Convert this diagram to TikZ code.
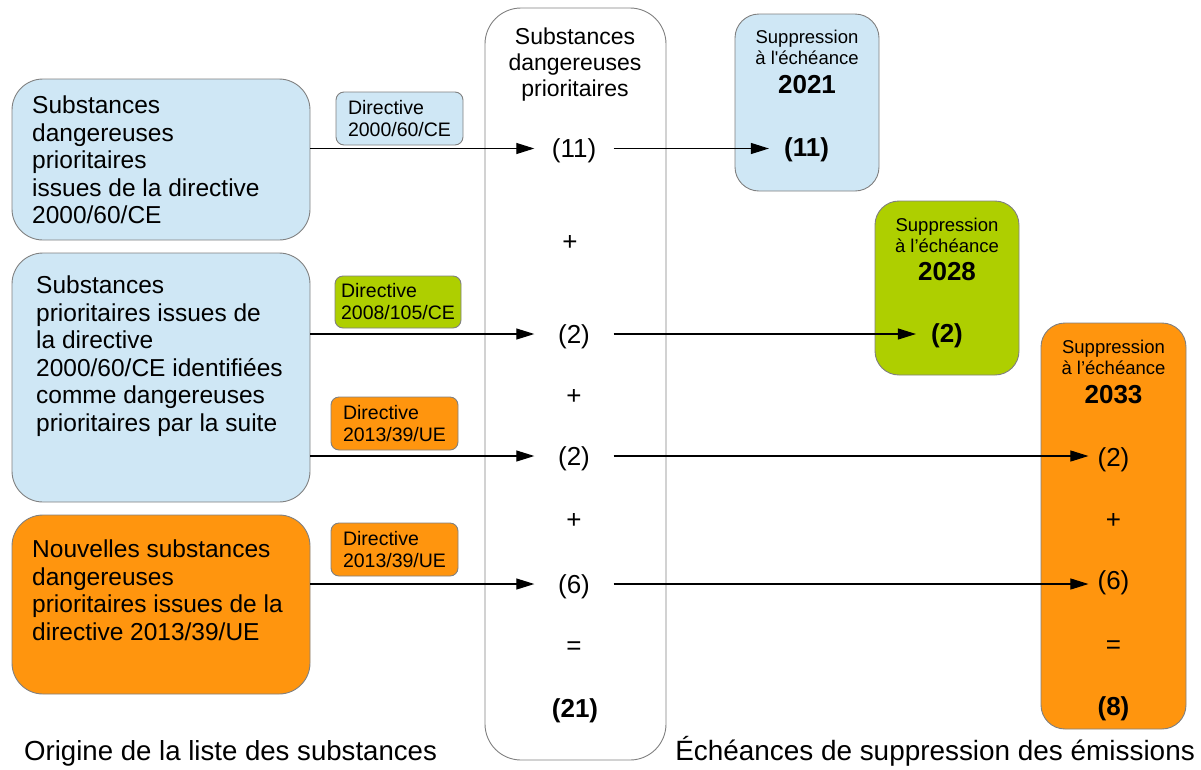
\documentclass[tikz,border=0pt]{standalone}
\usepackage{fontspec}
\setmainfont{Liberation Sans}
\newfontfamily\straightfont{Liberation Sans}
\usetikzlibrary{arrows.meta}
\definecolor{lblue}{HTML}{CFE7F5}
\definecolor{lgreen}{HTML}{AECF00}
\definecolor{orng}{HTML}{FF950E}
\definecolor{bord}{HTML}{808080}
\begin{document}
\begin{tikzpicture}[x=1pt,y=-1pt,
  bx/.style={draw=bord, line width=0.9pt, inner sep=0pt},
  bigbox/.style={bx, rounded corners=31pt},
  colbox/.style={bx, rounded corners=36pt, fill=white},
  rbox/.style={bx, rounded corners=24pt},
  dirbox/.style={bx, rounded corners=8pt, align=left, font=\fontsize{19.5}{22}\selectfont},
  boxtxt/.style={anchor=north west, inner sep=0pt, align=left, font=\fontsize{24.5}{27.5}\selectfont},
  hdr/.style={anchor=north, inner sep=0pt, align=center, font=\fontsize{23}{26}\selectfont},
  sup/.style={anchor=north, inner sep=0pt, align=center, font=\fontsize{18.5}{21}\selectfont},
  yr/.style={anchor=base, inner sep=0pt, font=\fontsize{26}{30}\selectfont\bfseries},
  num/.style={inner sep=0pt, text height=24pt, text depth=5.5pt, font=\fontsize{26}{30}\selectfont},
  bnum/.style={num, font=\fontsize{26}{30}\selectfont\bfseries},
  colnum/.style={num, minimum width=79pt},
  captxt/.style={inner sep=0pt, font=\fontsize{27.6}{32}\selectfont},
  arr/.style={-{Triangle[length=18pt,width=11pt]}, line width=1.1pt}
]
\useasboundingbox (0,0) rectangle (1201,769);

% left boxes
\node[bigbox, fill=lblue, minimum width=298pt, minimum height=161pt] (boxA) at (161,159.5) {};
\node[bigbox, fill=lblue, minimum width=298pt, minimum height=249pt] (boxB) at (161,377.5) {};
\node[bigbox, fill=orng, minimum width=298pt, minimum height=179pt] (boxC) at (161,604.5) {};
\node[boxtxt] (tA) at (32,96) {Substances\\dangereuses\\prioritaires\\issues de la directive\\2000/60/CE};
\node[boxtxt] (tB) at (36,276) {Substances\\prioritaires issues de\\la directive\\2000/60/CE identifiées\\comme dangereuses\\prioritaires par la suite};
\node[boxtxt] (tC) at (32,540) {Nouvelles substances\\dangereuses\\prioritaires issues de la\\directive 2013/39/UE};

% directive labels
\node[dirbox, fill=lblue, minimum width=127pt, minimum height=53pt] (d1) at (399.5,118.5) {Directive\\2000/60/CE};
\node[dirbox, fill=lgreen, minimum width=126pt, minimum height=52pt] (d2) at (398,302) {Directive\\2008/105/CE};
\node[dirbox, fill=orng, minimum width=127pt, minimum height=53pt] (d3) at (394.5,423.5) {Directive\\2013/39/UE};
\node[dirbox, fill=orng, minimum width=127pt, minimum height=53pt] (d4) at (394.5,549.5) {Directive\\2013/39/UE};

% central column
\node[colbox, minimum width=181pt, minimum height=752pt] (col) at (575.5,384) {};
\node[hdr] (hdr) at (575,28) {Substances\\dangereuses\\prioritaires};
\node[colnum] (c1) at (574,148.5) {(11)};
\node[num] (p1) at (570,241) {+};
\node[colnum] (c2) at (574,334) {(2)};
\node[num] (p2) at (574,395) {+};
\node[colnum] (c3) at (574,456) {(2)};
\node[num] (p3) at (574,519) {+};
\node[colnum] (c4) at (574,584) {(6)};
\node[num] (e1) at (574,645) {=};
\node[bnum] (tot) at (575,708) {(21)};

% right boxes
\node[rbox, fill=lblue, minimum width=144pt, minimum height=177pt] (b21) at (807,102.5) {};
\node[sup] (s21) at (807,29.5) {Suppression\\à l{\straightfont '}échéance};
\node[yr] (y21) at (807,93) {2021};
\node[bnum] (r1) at (806.5,147) {(11)};

\node[rbox, fill=lgreen, minimum width=144pt, minimum height=174pt] (b28) at (947,288) {};
\node[sup] (s28) at (947,217.5) {Suppression\\à l’échéance};
\node[yr] (y28) at (947,280) {2028};
\node[bnum] (r2) at (947,333) {(2)};

\node[rbox, fill=orng, minimum width=145pt, minimum height=406pt] (b33) at (1113.5,526) {};
\node[sup] (s33) at (1113.5,339.5) {Suppression\\à l’échéance};
\node[yr] (y33) at (1113.5,403) {2033};
\node[num] (r3) at (1113.5,457) {(2)};
\node[num] (q1) at (1113.5,519) {+};
\node[num] (r4) at (1113.5,580) {(6)};
\node[num] (q2) at (1113.5,644) {=};
\node[bnum] (r5) at (1113.5,706) {(8)};

% arrows from left boxes
\draw[arr] (boxA.east |- c1.west) -- (c1.west);
\draw[arr] (boxB.east |- c2.west) -- (c2.west);
\draw[arr] (boxB.east |- c3.west) -- (c3.west);
\draw[arr] (boxC.east |- c4.west) -- (c4.west);

% arrows to deadlines
\coordinate (t1) at ([xshift=-15pt]r1.west);
\coordinate (t2) at ([xshift=-15pt]r2.west);
\coordinate (t3) at ([xshift=-9pt]r3.west);
\coordinate (t4) at ([xshift=-9pt]r4.west);
\draw[arr] (c1.east) -- (t1 |- c1.east);
\draw[arr] (c2.east) -- (t2 |- c2.east);
\draw[arr] (c3.east) -- (t3 |- c3.east);
\draw[arr] (c4.east) -- (t4 |- c4.east);

% captions
\node[captxt, anchor=base west] (capL) at (24,760) {Origine de la liste des substances};
\node[captxt, anchor=base east, font=\fontsize{27.9}{32}\selectfont] (capR) at (1195,760) {Échéances de suppression des émissions};
\end{tikzpicture}
\end{document}
